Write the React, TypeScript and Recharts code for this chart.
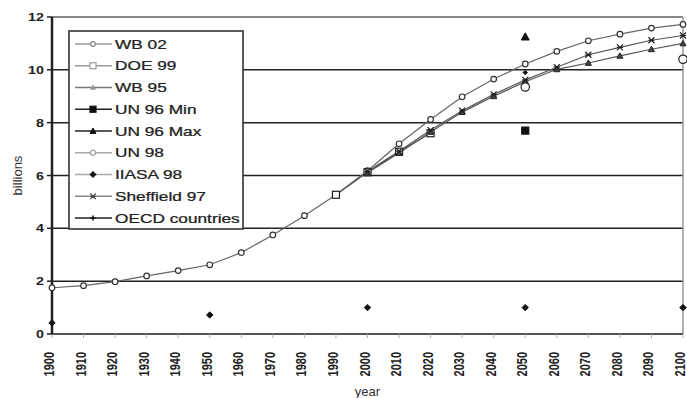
import React from 'react';
import { LineChart, Line, XAxis, YAxis, CartesianGrid, ReferenceLine, Legend, Label } from 'recharts';

const years = [1900, 1910, 1920, 1930, 1940, 1950, 1960, 1970, 1980, 1990, 2000, 2010, 2020, 2030, 2040, 2050, 2060, 2070, 2080, 2090, 2100];
const wb02 = [1.75, 1.83, 1.98, 2.2, 2.4, 2.62, 3.08, 3.75, 4.48, 5.27, 6.18, 7.2, 8.12, 8.98, 9.65, 10.22, 10.7, 11.1, 11.35, 11.58, 11.72];
const doe99 = [null, null, null, null, null, null, null, null, null, 5.27, 6.12, 6.9, 7.6, null, null, null, null, null, null, null, null];
const wb95 = [null, null, null, null, null, null, null, null, null, null, 6.1, 6.85, 7.65, 8.4, 9.0, 9.55, 10.02, 10.26, 10.53, 10.78, 11.0];
const un96min = [null, null, null, null, null, null, null, null, null, null, null, null, null, null, null, 7.7, null, null, null, null, null];
const un96max = [null, null, null, null, null, null, null, null, null, null, null, null, null, null, null, 11.25, null, null, null, null, null];
const un98 = [null, null, null, null, null, null, null, null, null, null, null, null, null, null, null, 9.35, null, null, null, null, 10.4];
const iiasa98 = [null, null, null, null, null, null, null, null, null, null, null, null, null, null, null, 9.9, null, null, null, null, null];
const sheffield97 = [null, null, null, null, null, null, null, null, null, null, 6.15, 6.92, 7.72, 8.45, 9.07, 9.62, 10.1, 10.57, 10.85, 11.12, 11.3];
const oecd = [0.42, null, null, null, null, 0.72, null, null, null, null, 1.0, null, null, null, null, 1.0, null, null, null, null, 1.0];
const yTicks = [0, 2, 4, 6, 8, 10, 12];

const data = years.map((y, i) => ({
  year: y,
  wb02: wb02[i], doe99: doe99[i], wb95: wb95[i], un96min: un96min[i], un96max: un96max[i],
  un98: un98[i], iiasa98: iiasa98[i], sheffield97: sheffield97[i], oecd: oecd[i],
}));

type Shape = 'circle' | 'square' | 'triangle' | 'diamond' | 'x' | 'plus';

function marker(shape: Shape, cx: number, cy: number, s: number, fill: string, stroke: string, key?: any) {
  switch (shape) {
    case 'circle':
      return <circle key={key} cx={cx} cy={cy} r={s} fill={fill} stroke={stroke} strokeWidth={1.2} />;
    case 'square':
      return <rect key={key} x={cx - s} y={cy - s} width={2 * s} height={2 * s} fill={fill} stroke={stroke} strokeWidth={1.2} />;
    case 'triangle':
      return <path key={key} d={`M${cx},${cy - s}L${cx + s},${cy + s * 0.8}L${cx - s},${cy + s * 0.8}Z`} fill={fill} stroke={stroke} strokeWidth={1} />;
    case 'diamond':
      return <path key={key} d={`M${cx},${cy - s}L${cx + s},${cy}L${cx},${cy + s}L${cx - s},${cy}Z`} fill={fill} stroke={stroke} strokeWidth={1} />;
    case 'x':
      return <path key={key} d={`M${cx - s},${cy - s}L${cx + s},${cy + s}M${cx - s},${cy + s}L${cx + s},${cy - s}M${cx - s},${cy}L${cx + s},${cy}`} stroke={stroke} strokeWidth={1.2} fill="none" />;
    case 'plus':
      return <path key={key} d={`M${cx - s},${cy}L${cx + s},${cy}M${cx},${cy - s}L${cx},${cy + s}`} stroke={stroke} strokeWidth={1.5} fill="none" />;
  }
}

const dotFn = (shape: Shape, s: number, fill: string, stroke: string) => (p: any) => {
  if (p.cx == null || p.cy == null || p.value == null) return <g key={p.key ?? p.index} />;
  return marker(shape, p.cx, p.cy, s, fill, stroke, p.key ?? p.index);
};

const series = [
  { key: 'wb02', name: 'WB 02', shape: 'circle' as Shape, s: 2.8, fill: '#fff', stroke: '#333', line: '#666', lg: '#999' },
  { key: 'doe99', name: 'DOE 99', shape: 'square' as Shape, s: 3.5, fill: '#fff', stroke: '#222', line: '#555', lg: '#999' },
  { key: 'wb95', name: 'WB 95', shape: 'triangle' as Shape, s: 3, fill: '#444', stroke: '#222', line: '#555', lg: '#777' },
  { key: 'un96min', name: 'UN 96 Min', shape: 'square' as Shape, s: 3.5, fill: '#111', stroke: '#111', line: '#111', lg: '#222' },
  { key: 'un96max', name: 'UN 96 Max', shape: 'triangle' as Shape, s: 4, fill: '#111', stroke: '#111', line: '#111', lg: '#222' },
  { key: 'un98', name: 'UN 98', shape: 'circle' as Shape, s: 4.2, fill: '#fff', stroke: '#222', line: '#999', lg: '#aaa' },
  { key: 'iiasa98', name: 'IIASA 98', shape: 'diamond' as Shape, s: 2.2, fill: '#111', stroke: '#111', line: '#999', lg: '#aaa' },
  { key: 'sheffield97', name: 'Sheffield 97', shape: 'x' as Shape, s: 3, fill: 'none', stroke: '#222', line: '#555', lg: '#888' },
  { key: 'oecd', name: 'OECD countries', shape: 'diamond' as Shape, s: 3.2, fill: '#111', stroke: '#111', line: '#111', lg: '#222' },
];

const legendShape: Record<string, { shape: Shape; s: number; fill: string; stroke: string }> = {
  wb02: { shape: 'circle', s: 2.3, fill: '#fff', stroke: '#888' },
  doe99: { shape: 'square', s: 3, fill: '#fff', stroke: '#999' },
  wb95: { shape: 'triangle', s: 2.3, fill: '#999', stroke: '#999' },
  un96min: { shape: 'square', s: 3, fill: '#111', stroke: '#111' },
  un96max: { shape: 'triangle', s: 3, fill: '#111', stroke: '#111' },
  un98: { shape: 'circle', s: 2.5, fill: '#fff', stroke: '#999' },
  iiasa98: { shape: 'diamond', s: 3, fill: '#111', stroke: '#111' },
  sheffield97: { shape: 'x', s: 2.8, fill: 'none', stroke: '#444' },
  oecd: { shape: 'plus', s: 2.5, fill: '#111', stroke: '#111' },
};

const FONT = 'Arial, "Liberation Sans", sans-serif';

const LegendBox = () => (
  <svg width={176} height={200} style={{ display: 'block' }}>
    <rect x={1} y={1} width={174} height={198} fill="#fff" stroke="#333" strokeWidth={1.6} />
    {series.map((s, i) => {
      const y = 14 + i * 21.75;
      const m = legendShape[s.key];
      return (
        <g key={s.key}>
          <line x1={7} x2={44} y1={y} y2={y} stroke={s.lg} strokeWidth={1.5} />
          {marker(m.shape, 25, y, m.s, m.fill, m.stroke)}
          <text transform={`translate(47, ${y + 4.5}) scale(1.44, 1)`} fontFamily={FONT} fontSize={12} fill="#222" stroke="#222" strokeWidth={0.25}>{s.name}</text>
        </g>
      );
    })}
  </svg>
);

const XTick = (p: any) => {
  const { x, y, payload } = p;
  return (
    <g transform={`translate(${x - 3},${y + 12})`}>
      <text transform="rotate(-90) scale(1, 1.25)" x={0} y={4} textAnchor="end" fontFamily={FONT} fontSize={11} fontWeight="bold" fill="#222">{payload.value}</text>
    </g>
  );
};

const YTick = (p: any) => {
  const { x, y, payload } = p;
  return (
    <text transform={`translate(${x - 1},${y + 4}) scale(1.3,1)`} textAnchor="end" fontFamily={FONT} fontSize={11} fontWeight="bold" fill="#222">{payload.value}</text>
  );
};

export default function App() {
  return (
    <div style={{ position: 'absolute', left: 0, top: 0, width: 687, height: 398, background: '#fff' }}>
      <LineChart width={687} height={398} data={data} margin={{ top: 17, right: 4, bottom: 0, left: 0 }}>
        <CartesianGrid vertical={false} stroke="#222" strokeWidth={1.5} horizontalValues={[2, 4, 6, 8, 10]} />
        <ReferenceLine y={12} stroke="#888" strokeWidth={2} />
        <ReferenceLine x={2100} stroke="#999" strokeWidth={1.5} />
        <XAxis dataKey="year" type="number" domain={[1900, 2100]} ticks={years} interval={0} height={64}
          axisLine={{ stroke: '#555', strokeWidth: 2 }} tickLine={{ stroke: '#aaa' }} tickSize={4} tick={<XTick />}>
          <Label value="year" position="insideBottom" offset={2} dx={0} style={{ fontFamily: FONT, fontSize: 13, fill: '#333' }} />
        </XAxis>
        <YAxis domain={[0, 12]} ticks={yTicks} interval={0} width={52}
          axisLine={{ stroke: '#222', strokeWidth: 2.5 }} tickLine={{ stroke: '#222', strokeWidth: 1.5 }} tickSize={5} tick={<YTick />}>
          <Label value="billions" angle={-90} position="insideLeft" offset={17} style={{ fontFamily: FONT, fontSize: 13, fill: '#333', textAnchor: 'middle' }} />
        </YAxis>
        <Legend layout="vertical" align="center" verticalAlign="middle" content={<LegendBox />}
          wrapperStyle={{ position: 'absolute', left: 68, top: 30, width: 176, height: 200 }} />
        {series.map((s) => (
          <Line key={s.key} dataKey={s.key} name={s.name} type="linear" stroke={s.line} strokeWidth={1.2}
            dot={dotFn(s.shape, s.s, s.fill, s.stroke)} activeDot={false} isAnimationActive={false} connectNulls={false} />
        ))}
      </LineChart>
    </div>
  );
}
